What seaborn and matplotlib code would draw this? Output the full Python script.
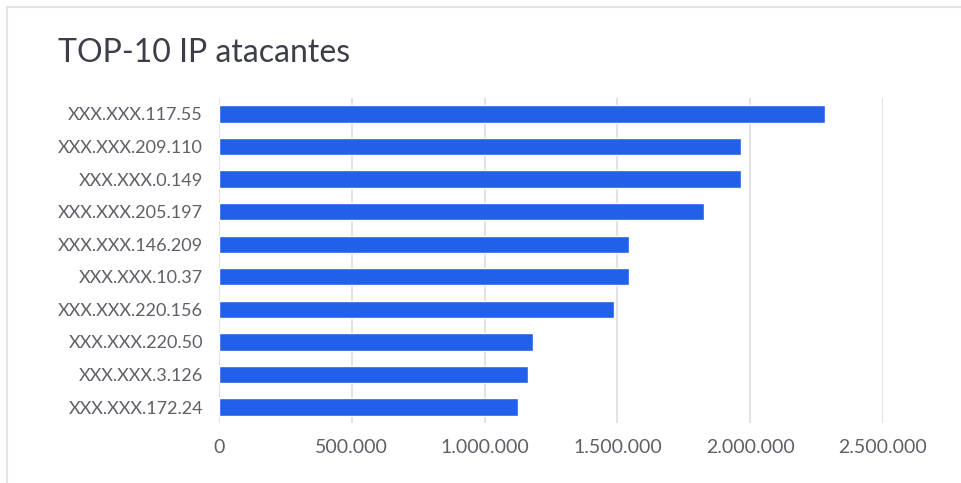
import matplotlib
matplotlib.use("Agg")
import matplotlib.pyplot as plt
import matplotlib.ticker as mticker
from matplotlib.patches import Rectangle
import seaborn as sns
import pandas as pd

ips = ["XXX.XXX.117.55", "XXX.XXX.209.110", "XXX.XXX.0.149", "XXX.XXX.205.197",
       "XXX.XXX.146.209", "XXX.XXX.10.37", "XXX.XXX.220.156", "XXX.XXX.220.50",
       "XXX.XXX.3.126", "XXX.XXX.172.24"]
attacks = [2282000, 1965000, 1965000, 1826000, 1544000, 1544000, 1487000,
           1182000, 1163000, 1126000]
xticks = [0, 500000, 1000000, 1500000, 2000000, 2500000]

df = pd.DataFrame({"ip": ips, "attacks": attacks})

sns.set_theme(style="white")
plt.rcParams['font.family'] = ['Lato', 'DejaVu Sans']

W, H = 962, 483
fig = plt.figure(figsize=(W / 100, H / 100), dpi=100)
fig.patch.set_facecolor("white")

# light frame around the card (top and left edges visible)
fig.add_artist(Rectangle((7 / W, -0.05), 1.2, (H - 7) / H + 0.05, transform=fig.transFigure,
                         fill=False, edgecolor="#e3e4e8", linewidth=1.5))

left, right, top, bottom = 219, 883, 97.7, 423.3
ax = fig.add_axes([left / W, 1 - bottom / H, (right - left) / W, (bottom - top) / H])

sns.barplot(data=df, x="attacks", y="ip", color="#2160E8", width=0.53,
            saturation=1, ax=ax, zorder=3)

ax.set_xlim(0, 2500000)
ax.set_xticks(xticks)
ax.xaxis.set_major_formatter(mticker.FuncFormatter(lambda v, p: f"{int(v):,}".replace(",", ".")))
ax.grid(axis="x", color="#dcdde1", linewidth=1.2, zorder=0)
ax.set_axisbelow(True)
for s in ax.spines.values():
    s.set_visible(False)
ax.set_xlabel("")
ax.set_ylabel("")
ax.tick_params(axis="x", length=0, pad=11, labelsize=14, labelcolor="#5f6068")
ax.tick_params(axis="y", length=0, pad=11.5, labelsize=13, labelcolor="#5f6068")

fig.text(58 / W, 1 - 62 / H, "TOP-10 IP atacantes", fontsize=23, color="#3c3f47",
         ha="left", va="baseline")

fig.savefig("out.png", dpi=100, facecolor="white")
